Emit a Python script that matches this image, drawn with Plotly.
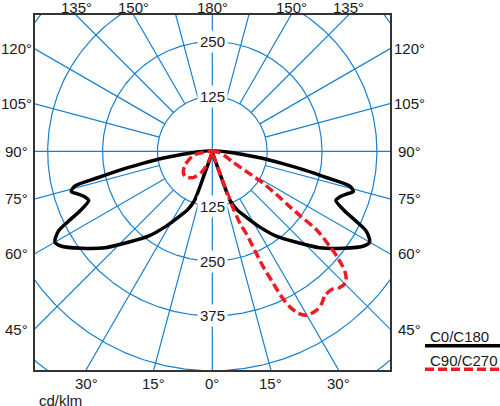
import numpy as np
import plotly.graph_objects as go

# luminous intensity distribution, gamma measured from nadir (deg), values in cd/klm
# C0/C180 plane is symmetric, same values on both sides
c0_gamma = [0, 15, 19, 20, 23, 26, 32, 37, 43, 48, 53.5, 58, 60, 62.5, 64, 66,
            68.3, 70.5, 72.5, 74, 75.7, 77, 78.5, 80, 82, 85, 90]
c0_cd = [0, 8, 55, 120, 145, 161, 203, 242, 284, 328, 371, 407, 414, 396, 366, 327,
         303, 309, 322, 334, 324, 268, 215, 165, 115, 55, 0]

# C90 half (right lobe)
c90_gamma = [0, 15, 19, 19.5, 20.2, 21, 22.5, 23.2, 23.8, 24.8, 25.5, 26.5, 28, 30,
             33.3, 35.7, 38, 40.8, 43.1, 45.6, 47.7, 49.6, 51, 53, 53.8, 54.5, 56,
             58, 59, 62, 70, 80, 90]
c90_cd = [0, 8, 55, 100, 140, 175, 205, 246, 288, 332, 368, 396, 418, 431,
          433, 427, 417, 416, 425, 426, 409, 377, 345, 298, 245, 215, 178,
          135, 100, 55, 30, 15, 0]

# C270 half (small loop on the left)
c270_gamma = [0, 15, 20.5, 27, 36, 45, 52.4, 63, 78, 82, 90]
c270_cd = [0, 8, 26, 53, 74, 83, 83, 70, 44, 28, 0]

grid_radii = [125, 250, 375, 500, 625]
radial_labels_up = [125, 250]
radial_labels_down = [125, 250, 375]
side_angles = [45, 60, 75, 90, 105, 120]
bottom_angles = [0, 15, 30]
top_angles = [135, 150, 180]

BLUE = "#1580d0"
RED = "#ec1c24"
TXT = "#1a1a1a"
FONT = "Liberation Sans, Arial, sans-serif"

X_MIN, X_MAX = -403.9, 404.8
Y_MIN, Y_MAX = -498.2, 310.5


def to_xy(gamma, cd, side):
    g = np.radians(np.asarray(gamma, dtype=float))
    r = np.asarray(cd, dtype=float)
    return side * r * np.sin(g), -r * np.cos(g)


# ---------------------------------------------------------------------------
# polar grid
# ---------------------------------------------------------------------------
gx, gy = [], []
t = np.linspace(0, 2 * np.pi, 721)
for r in grid_radii:
    gx += list(r * np.cos(t)) + [None]
    gy += list(r * np.sin(t)) + [None]
for g in range(15, 180, 15):
    if g == 90:
        continue
    for side in (-1, 1):
        xs, ys = to_xy([g, g], [125, 1000], side)
        gx += list(xs) + [None]
        gy += list(ys) + [None]
gx += [0, 0, None, -1000, 1000, None]
gy += [-1000, 1000, None, 0, 0, None]

fig = go.Figure()
fig.add_trace(go.Scatter(x=gx, y=gy, mode="lines", hoverinfo="skip",
                         line=dict(color=BLUE, width=1.2), showlegend=False))

# ---------------------------------------------------------------------------
# curves
# ---------------------------------------------------------------------------
lx, ly = to_xy(c0_gamma, c0_cd, -1)
rx, ry = to_xy(c0_gamma, c0_cd, 1)
fig.add_trace(go.Scatter(
    x=list(lx) + [None] + list(rx), y=list(ly) + [None] + list(ry),
    mode="lines", name="C0/C180", showlegend=False,
    line=dict(color="black", width=3.5, shape="spline", smoothing=0.8),
))

lx, ly = to_xy(c270_gamma, c270_cd, -1)
rx, ry = to_xy(c90_gamma, c90_cd, 1)
fig.add_trace(go.Scatter(
    x=list(lx) + [None] + list(rx), y=list(ly) + [None] + list(ry),
    mode="lines", name="C90/C270", showlegend=False,
    line=dict(color=RED, width=3.5, dash="9px,4px", shape="spline", smoothing=0.8),
))

# ---------------------------------------------------------------------------
# labels
# ---------------------------------------------------------------------------
ann = []
for v in radial_labels_up:
    ann.append(dict(x=0, y=v, text=str(v)))
for v in radial_labels_down:
    ann.append(dict(x=0, y=-v, text=str(v)))
for a in ann:
    a.update(xref="x", yref="y", showarrow=False, bgcolor="white", borderpad=2,
             xanchor="center", yanchor="middle",
             font=dict(size=15, color=TXT, family=FONT))


def deg(g):
    return f"{g}°"


def label(**kw):
    d = dict(showarrow=False, xanchor="center", yanchor="middle")
    d.update(kw)
    ann.append(d)


for g in side_angles:
    y = -X_MAX * np.cos(np.radians(g)) / np.sin(np.radians(g))
    label(x=-0.0535, xref="paper", y=y, yref="y", text=deg(g))
    label(x=1.056, xref="paper", y=y, yref="y", text=deg(g))
for g in bottom_angles:
    x = -Y_MIN * np.tan(np.radians(g))
    for s in ((-1, 1) if g else (1,)):
        label(x=s * x, xref="x", y=-0.0394, yref="paper", text=deg(g))
for g in top_angles:
    x = Y_MAX * np.tan(np.radians(g))
    for s in ((1, -1) if g != 180 else (1,)):
        label(x=s * x, xref="x", y=1.0225, yref="paper", text=deg(g))

label(x=0.0056, xref="paper", y=-0.0873, yref="paper", text="cd/klm",
      xanchor="left")

# legend drawn by hand: text with line underneath
label(x=1.107, xref="paper", y=0.093, yref="paper", text="C0/C180", xanchor="left")
label(x=1.107, xref="paper", y=0.0254, yref="paper", text="C90/C270", xanchor="left")

shapes = [
    dict(type="line", xref="paper", yref="paper", x0=1.0986, x1=1.32, y0=0.0685,
         y1=0.0685, line=dict(color="black", width=3.5)),
    dict(type="line", xref="paper", yref="paper", x0=1.0986, x1=1.32, y0=0.002,
         y1=0.002, line=dict(color=RED, width=3.5, dash="9px,4px")),
]

axis = dict(showgrid=False, zeroline=False, showticklabels=False, ticks="",
            showline=True, mirror=True, linecolor="#333333", linewidth=2)

fig.update_layout(
    width=500, height=406,
    margin=dict(l=35, r=110, t=15, b=36),
    paper_bgcolor="white", plot_bgcolor="white",
    font=dict(family=FONT, size=15, color=TXT),
    xaxis=dict(range=[X_MIN, X_MAX], **axis),
    yaxis=dict(range=[Y_MIN, Y_MAX], **axis),
    annotations=ann,
    shapes=shapes,
    showlegend=False,
)

# page body has a default 8px margin, drop it so the figure sits at 0,0
fig.write_html("out.html", config={"displayModeBar": False},
               post_script="document.body.style.margin='0';")
